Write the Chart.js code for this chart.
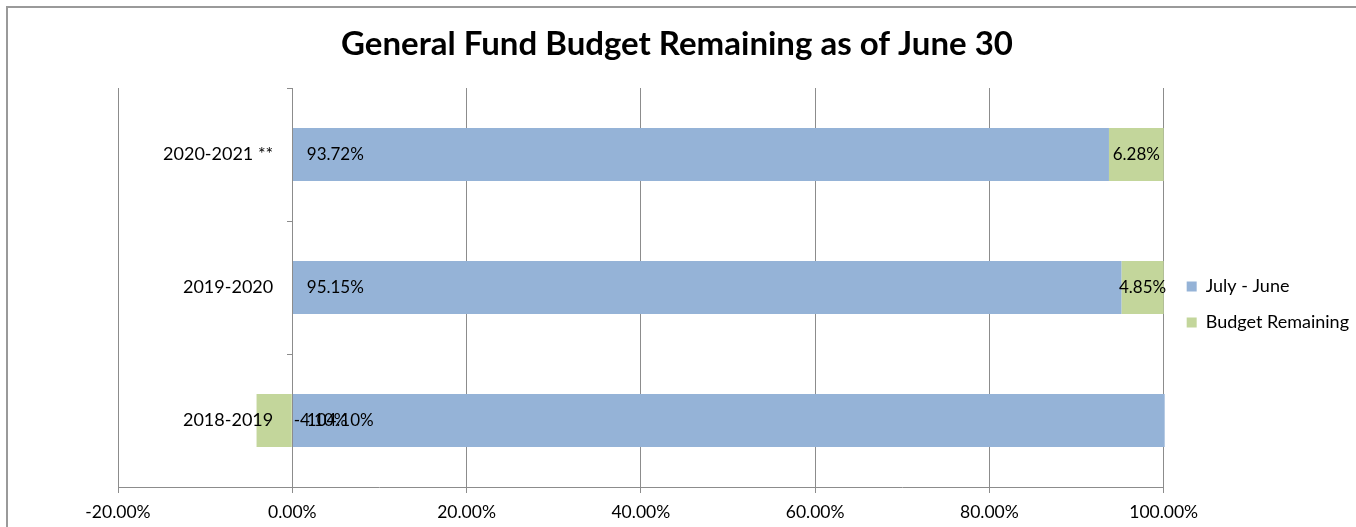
<!DOCTYPE html>
<html>
<head>
<meta charset="utf-8">
<script src="https://cdn.jsdelivr.net/npm/chart.js@4/dist/chart.umd.min.js"></script>
<style>
  html, body { margin: 0; padding: 0; background: #ffffff; }
  #wrap { width: 1356px; height: 527px; position: relative; }
</style>
</head>
<body>
<div id="wrap"><canvas id="c" width="1356" height="527"></canvas></div>
<script>
// ---- data ----
const categories = ['2018-2019', '2019-2020', '2020-2021 **'];
const julyJune = [104.10, 95.15, 93.72];
const budgetRemaining = [-4.10, 4.85, 6.28];
const xTickValues = [-20, 0, 20, 40, 60, 80, 100];
const seriesNames = ['July - June', 'Budget Remaining'];

const FONT = 'Lato, "Liberation Sans", sans-serif';
const fmt = v => v.toFixed(2) + '%';

const framePlugin = {
  id: 'frame',
  beforeDraw(chart) {
    const ctx = chart.ctx;
    ctx.save();
    ctx.strokeStyle = '#9a9a9a';
    ctx.lineWidth = 2;
    ctx.beginPath();
    ctx.moveTo(7, 540);
    ctx.lineTo(7, 7);
    ctx.lineTo(1360, 7);
    ctx.stroke();
    ctx.restore();
  }
};

// nudge the legend block to where the reference places it
const legendShift = {
  id: 'legendShift',
  afterLayout(chart) {
    const lg = chart.legend;
    if (!lg) return;
    lg.left += 5; lg.right += 5;
    lg.top += 41; lg.bottom += 41;
  }
};

const labelPlugin = {
  id: 'barLabels',
  afterDatasetsDraw(chart) {
    const ctx = chart.ctx;
    ctx.save();
    ctx.font = '17px ' + FONT;
    ctx.fillStyle = '#000000';
    ctx.textBaseline = 'middle';
    chart.data.datasets.forEach((ds, di) => {
      const meta = chart.getDatasetMeta(di);
      meta.data.forEach((el, i) => {
        const v = ds.data[i];
        const lo = Math.min(el.x, el.base);
        const hi = Math.max(el.x, el.base);
        const txt = fmt(v);
        if (di === 0) {
          ctx.textAlign = 'left';
          ctx.fillText(txt, lo + 14, el.y);
        } else if (v >= 0) {
          ctx.textAlign = 'center';
          ctx.fillText(txt, (lo + hi) / 2, el.y);
        } else {
          ctx.textAlign = 'left';
          ctx.fillText(txt, hi + 2, el.y);
        }
      });
    });
    ctx.restore();
  }
};

new Chart(document.getElementById('c'), {
  type: 'bar',
  data: {
    labels: categories,
    datasets: [
      { label: seriesNames[0], data: julyJune, backgroundColor: '#95B3D7', clip: {left: 0, right: 1, top: 0, bottom: 0} },
      { label: seriesNames[1], data: budgetRemaining, backgroundColor: '#C3D69B', clip: {left: 0, right: 1, top: 0, bottom: 0} }
    ]
  },
  options: {
    indexAxis: 'y',
    responsive: false,
    animation: false,
    devicePixelRatio: 1,
    layout: { padding: { left: 0, right: 2, top: 0, bottom: 0 } },
    datasets: { bar: { categoryPercentage: 1.0, barPercentage: 0.4 } },
    plugins: {
      title: {
        display: true,
        text: 'General Fund Budget Remaining as of June 30',
        color: '#000000',
        font: { family: FONT, size: 33, weight: 'bold', lineHeight: 1.2 },
        padding: { top: 25, bottom: 23.4 }
      },
      legend: {
        position: 'right',
        maxWidth: 400,
        labels: {
          color: '#000000',
          font: { family: FONT, size: 18 },
          boxWidth: 10, boxHeight: 10,
          padding: 18
        }
      },
      tooltip: { enabled: false }
    },
    scales: {
      x: {
        type: 'linear',
        stacked: true,
        min: -20, max: 100,
        afterBuildTicks: s => { s.ticks = xTickValues.map(v => ({ value: v })); },
        afterFit: s => { s.height = 40; },
        ticks: {
          color: '#000000',
          font: { family: FONT, size: 17.5 },
          padding: 9,
          callback: v => fmt(v)
        },
        grid: { color: '#8c8c8c', lineWidth: 1, tickLength: 6, drawTicks: true },
        border: { color: '#8c8c8c', width: 1 }
      },
      // category axis used by the bars; reserves the left margin
      y: {
        type: 'category',
        stacked: true,
        reverse: true,
        position: 'left',
        afterFit: s => { s.width = 118; },
        ticks: { display: false },
        grid: { display: false, drawTicks: false },
        border: { display: false }
      },
      // category labels, drawn just left of the zero line
      yLabels: {
        type: 'category',
        reverse: true,
        offset: true,
        position: { x: -2.19 },
        afterFit: s => { s.width = 0; },
        ticks: { color: '#000000', font: { family: FONT, size: 18 }, z: 1 },
        grid: { display: false, drawTicks: false },
        border: { display: false }
      },
      // vertical axis line with tick marks at the zero line
      yZero: {
        type: 'category',
        reverse: true,
        offset: true,
        position: { x: 0 },
        afterFit: s => { s.width = 0; },
        ticks: { display: false },
        grid: { offset: true, drawOnChartArea: false, drawTicks: true, tickLength: 5, color: '#8c8c8c', z: 1 },
        border: { color: '#8c8c8c', width: 1, z: 1 }
      }
    }
  },
  plugins: [framePlugin, legendShift, labelPlugin]
});
</script>
</body>
</html>
